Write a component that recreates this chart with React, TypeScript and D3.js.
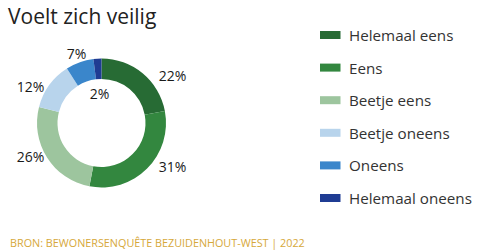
import React from "react";
import * as d3 from "d3";

const categories = ["Helemaal eens", "Eens", "Beetje eens", "Beetje oneens", "Oneens", "Helemaal oneens"];
const values = [22, 31, 26, 12, 7, 2];
const colors = ["#276b34", "#33873f", "#9dc59e", "#b8d4ec", "#3a86cb", "#1f3c93"];
const title = "Voelt zich veilig";
const source = "BRON: BEWONERSENQUÊTE BEZUIDENHOUT-WEST | 2022";

const W = 480;
const H = 252;
const FONT = "'Open Sans', 'Noto Sans', sans-serif";

export default function App() {
  const cx = 101.5;
  const cy = 123;
  const outerR = 64.5;
  const innerR = 44;

  const pie = d3.pie<number>().sort(null).value((d) => d);
  const arcs = pie(values);
  const arc = d3.arc<d3.PieArcDatum<number>>().innerRadius(innerR).outerRadius(outerR);

  const labelPos = (a: d3.PieArcDatum<number>) => {
    const t = (a.startAngle + a.endAngle) / 2;
    const s = Math.sin(t);
    const c = Math.cos(t);
    if (a.value < 5) {
      const r = innerR - 14;
      return [cx + r * s, cy - r * c];
    }
    if (Math.abs(s) > 0.5) {
      return [cx + Math.sign(s) * 71, cy - 62 * c];
    }
    const r = 74;
    return [cx + r * s, cy - r * c];
  };

  const legendX = 320;
  const legendY0 = 31;
  const legendStep = 32.6;

  return (
    <svg width={W} height={H} style={{ position: "absolute", left: 0, top: 0 }} fontFamily={FONT}>
      <rect width={W} height={H} fill="#ffffff" />
      <text x={8} y={24} fontSize={21} fill="#222">{title}</text>
      <g transform={`translate(${cx},${cy})`}>
        {arcs.map((a, i) => (
          <path key={i} d={arc(a) || ""} fill={colors[i]} />
        ))}
      </g>
      {arcs.map((a, i) => {
        const [x, y] = labelPos(a);
        return (
          <text key={i} x={x} y={y} textAnchor="middle" dominantBaseline="central" fontSize={14} fill="#1a1a1a">
            {`${values[i]}%`}
          </text>
        );
      })}
      {categories.map((c, i) => (
        <g key={c} transform={`translate(${legendX},${legendY0 + i * legendStep})`}>
          <rect x={0} y={0} width={20.5} height={8} fill={colors[i]} />
          <text x={29} y={4} dominantBaseline="central" fontSize={15.2} fill="#333">{c}</text>
        </g>
      ))}
      <text x={10} y={246.5} fontSize={10.8} fill="#d6a83a">{source}</text>
    </svg>
  );
}
